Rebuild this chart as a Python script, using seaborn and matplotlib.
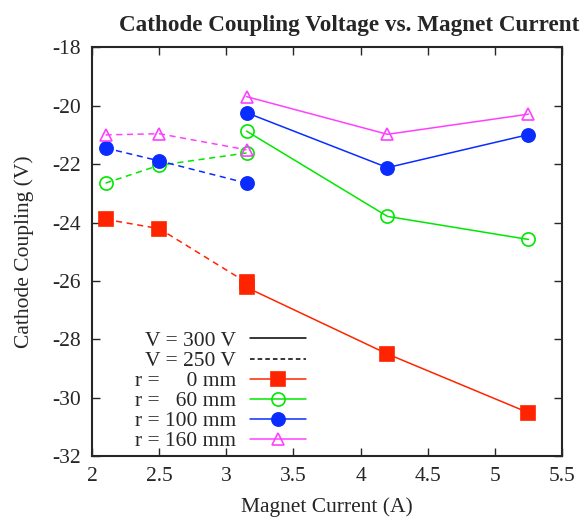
import numpy as np
import pandas as pd
import matplotlib
matplotlib.use("Agg")
import matplotlib.pyplot as plt
import seaborn as sns

# magnet current (A)
prad_250 = [2.1, 2.5, 3.15]
prad_300 = [3.15, 4.2, 5.25]

# cathode coupling (V), V = 250 V (dashed)
r0_250 = [-23.89, -24.21, -26.05]
r60_250 = [-22.65, -22.04, -21.62]
r100_250 = [-21.45, -21.89, -22.65]
r160_250 = [-21.0, -20.96, -21.51]

# cathode coupling (V), V = 300 V (solid)
r0_300 = [-26.22, -28.5, -30.51]
r60_300 = [-20.87, -23.79, -24.58]
r100_300 = [-20.24, -22.12, -20.99]
r160_300 = [-19.69, -20.98, -20.29]

etykiety = ["r =     0 mm", "r =   60 mm", "r = 100 mm", "r = 160 mm"]
kolory = ["#ff2400", "#00e800", "#0a2cff", "#ff40ff"]
markery = ["s", "o", "o", "^"]
rozmiary = [9.5, 9.5, 9.5, 9.0]
wypelnienie = [True, False, True, False]

sns.set_style("ticks")
plt.rcParams['font.family'] = ['Liberation Serif', 'DejaVu Serif']
plt.rcParams['font.size'] = 15.5
plt.rcParams['axes.unicode_minus'] = False

fig, ax = plt.subplots(figsize=(5.83, 5.25), dpi=100)
fig.subplots_adjust(left=0.158, right=0.964, top=0.910, bottom=0.131)

seria250 = [r0_250, r60_250, r100_250, r160_250]
seria300 = [r0_300, r60_300, r100_300, r160_300]

uchwyty = []
for k in range(4):
    mfc = kolory[k] if wypelnienie[k] else "none"
    styl = dict(color=kolory[k], lw=1.1, marker=markery[k], markersize=rozmiary[k],
                markerfacecolor=mfc, markeredgecolor=kolory[k], markeredgewidth=1.2)
    sns.lineplot(x=prad_250, y=seria250[k], ax=ax, linestyle=(0, (4, 3)),
                 legend=False, **styl)
    sns.lineplot(x=prad_300, y=seria300[k], ax=ax, linestyle="-",
                 legend=False, **styl)
    h, = ax.plot([], [], **styl)
    uchwyty.append(h)

h300, = ax.plot([], [], color="black", lw=1.1, linestyle="-")
h250, = ax.plot([], [], color="black", lw=1.1, linestyle=(0, (3, 2)))

leg = ax.legend([h300, h250] + uchwyty, ["V = 300 V", "V = 250 V"] + etykiety,
                loc="lower right", bbox_to_anchor=(0.455, 0.012), frameon=False,
                markerfirst=False, handlelength=2.6, labelspacing=0.0,
                fontsize=15.5, handletextpad=0.65, borderaxespad=0.0, borderpad=0.0)
for kol in leg._legend_box.get_children()[1].get_children():
    kol.align = "right"

ax.set_xlim(2, 5.5)
ax.set_ylim(-32, -18)
ax.set_xticks(np.arange(2, 5.51, 0.5))
ax.set_xticklabels(["2", "2.5", "3", "3.5", "4", "4.5", "5", "5.5"])
ax.set_yticks(np.arange(-32, -17.9, 2))
ax.tick_params(direction="in", top=True, right=True, length=6, width=1,
               labelsize=15.5, pad=8)
for s in ax.spines.values():
    s.set_linewidth(1.5)

ax.set_xlabel("Magnet Current (A)", fontsize=15.5, labelpad=8)
ax.set_ylabel("Cathode Coupling (V)", fontsize=15.5, labelpad=13)
ax.set_title("Cathode Coupling Voltage vs. Magnet Current", fontsize=16.7,
             fontweight="bold", pad=12, x=0.547)

fig.savefig("out.png", dpi=100)
